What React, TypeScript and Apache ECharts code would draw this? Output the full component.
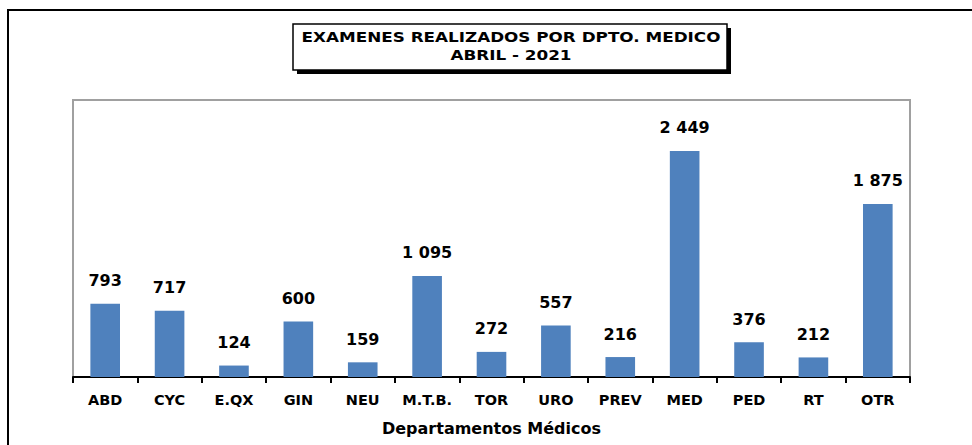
import React, { useEffect, useRef } from "react";
import * as echarts from "echarts";

const categories = ["ABD", "CYC", "E.QX", "GIN", "NEU", "M.T.B.", "TOR", "URO", "PREV", "MED", "PED", "RT", "OTR"];
const values = [793, 717, 124, 600, 159, 1095, 272, 557, 216, 2449, 376, 212, 1875];
const titleLines = ["EXAMENES REALIZADOS POR DPTO. MEDICO", "ABRIL - 2021"];
const xAxisName = "Departamentos Médicos";

const FONT = "DejaVu Sans";

function fmt(v: number): string {
  return String(v).replace(/\B(?=(\d{3})+(?!\d))/g, " ");
}

export default function App() {
  const ref = useRef<HTMLDivElement>(null);
  useEffect(() => {
    document.body.style.margin = "0";
    const chart = echarts.init(ref.current!, undefined, { renderer: "svg" });
    const titleText = (text: string, y: number) => ({
      type: "text",
      x: 511,
      y,
      scaleX: 1.2,
      style: {
        text,
        fontFamily: FONT,
        fontWeight: "bold",
        fontSize: 14,
        fill: "#000",
        align: "center",
        verticalAlign: "middle",
      },
      silent: true,
    });
    chart.setOption({
      animation: false,
      backgroundColor: "#ffffff",
      grid: {
        left: 73,
        right: 62,
        top: 100,
        bottom: 68,
        show: true,
        borderColor: "#a0a0a0",
        borderWidth: 2,
        containLabel: false,
      },
      xAxis: {
        type: "category",
        data: categories,
        name: xAxisName,
        nameLocation: "middle",
        nameGap: 43,
        nameTextStyle: { fontFamily: FONT, fontWeight: "bold", fontSize: 16, color: "#000" },
        axisLine: { lineStyle: { color: "#000", width: 2 } },
        axisTick: { show: true, length: 6, lineStyle: { color: "#000", width: 2 } },
        axisLabel: {
          interval: 0,
          hideOverlap: false,
          fontFamily: FONT,
          fontWeight: "bold",
          fontSize: 14.5,
          color: "#000",
          margin: 15,
        },
      },
      yAxis: {
        type: "value",
        min: 0,
        max: 3000,
        show: false,
        splitLine: { show: false },
      },
      series: [
        {
          type: "bar",
          data: values,
          barWidth: "46%",
          itemStyle: { color: "#4f81bd" },
          label: {
            show: true,
            position: "top",
            distance: 15,
            formatter: (p: any) => fmt(p.value),
            fontFamily: FONT,
            fontWeight: "bold",
            fontSize: 16,
            color: "#000",
          },
        },
      ],
      graphic: [
        {
          type: "rect",
          shape: { x: 8, y: 10, width: 1000, height: 500 },
          style: { fill: "none", stroke: "#000", lineWidth: 2 },
          silent: true,
        },
        {
          type: "rect",
          shape: { x: 297, y: 28, width: 434, height: 46 },
          style: { fill: "#000" },
          silent: true,
        },
        {
          type: "rect",
          shape: { x: 293, y: 24, width: 434, height: 46 },
          style: { fill: "#fff", stroke: "#000", lineWidth: 1.5 },
          silent: true,
        },
        titleText(titleLines[0], 37),
        titleText(titleLines[1], 55),
      ],
    });
    return () => chart.dispose();
  }, []);
  return <div ref={ref} style={{ width: 972, height: 445 }} />;
}
